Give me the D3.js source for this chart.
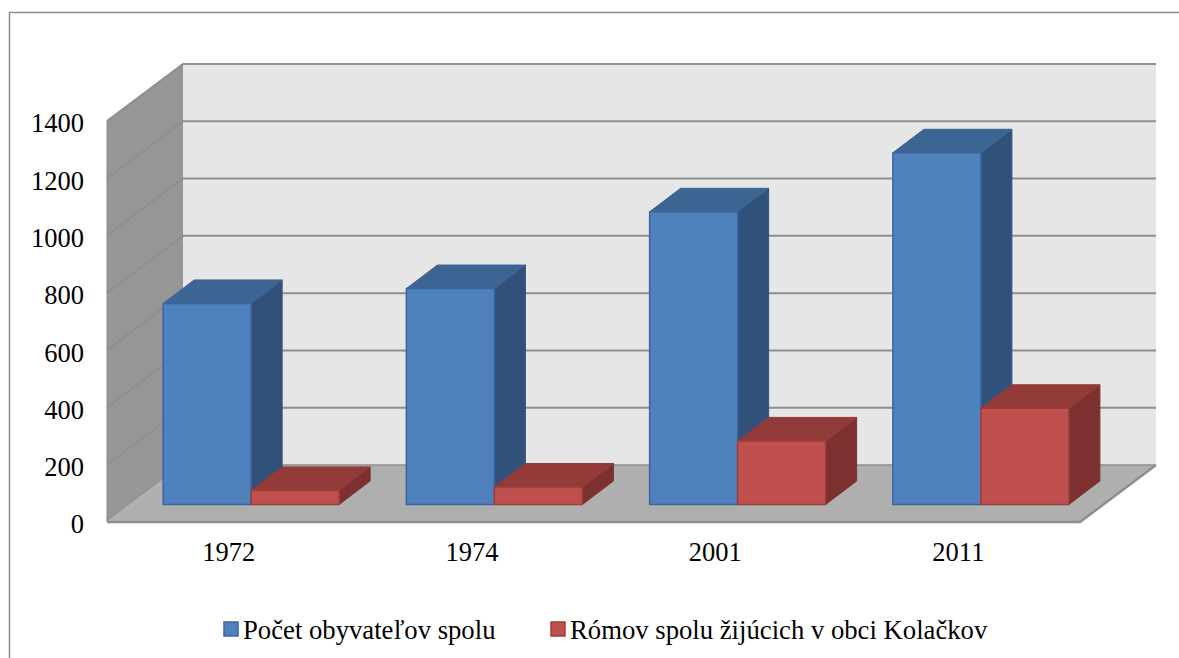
<!DOCTYPE html>
<html><head><meta charset="utf-8">
<script src="https://cdn.jsdelivr.net/npm/d3@7"></script>
<style>html,body{margin:0;padding:0;background:#fff;overflow:hidden}svg{display:block}text{font-family:"Liberation Serif",serif;fill:#000}</style>
</head><body><svg id="c" width="1179" height="658"></svg>
<script>
const categories = ["1972","1974","2001","2011"];
const seriesNames = ["Počet obyvateľov spolu","Rómov spolu žijúcich v obci Kolačkov"];
const population = [702,754,1022,1228];
const roma = [49,61,222,336];
const yTicks = [0,200,400,600,800,1000,1200,1400];
const palette = [
  {front:"#4f81bd",top:"#3c6594",side:"#31517b",edge:"#3a669c"},
  {front:"#c0504d",top:"#923b39",side:"#7c302f",edge:"#9c3f3c"}
];
const svg = d3.select("#c");
const left=107,right=1080,top0=121,bottom=522;
const wallDx=76,wallDy=-57,barDx=31,barDy=-23.5,barBase=504.5;
const grid="#8e8e8e";
const y = d3.scaleLinear().domain([0,1400]).range([bottom,top0]);
const x0 = d3.scaleBand().domain(categories).range([left,right]);
const barW = 88;
const poly=(pts)=>pts.map(p=>p.join(",")).join(" ");

// frame
svg.append("path").attr("d","M9.5,658V12.5H1179").attr("fill","none").attr("stroke","#8c8c8c").attr("stroke-width",1.5);

// walls
svg.append("polygon").attr("points",poly([[left+wallDx,y(1400)+wallDy],[right+wallDx,y(1400)+wallDy],[right+wallDx,y(0)+wallDy],[left+wallDx,y(0)+wallDy]])).attr("fill","#e6e6e6");
svg.append("polygon").attr("points",poly([[left,y(1400)],[left+wallDx,y(1400)+wallDy],[left+wallDx,y(0)+wallDy],[left,y(0)]])).attr("fill","#969696");
svg.append("polygon").attr("points",poly([[left,y(0)],[left+wallDx,y(0)+wallDy],[right+wallDx,y(0)+wallDy],[right,y(0)]])).attr("fill","#afafaf");

// gridlines
yTicks.forEach(t=>{
  const pts = t===0
    ? [[left,y(t)],[right,y(t)],[right+wallDx,y(t)+wallDy]]
    : [[left,y(t)],[left+wallDx,y(t)+wallDy],[right+wallDx,y(t)+wallDy]];
  svg.append("polyline").attr("points",poly(pts)).attr("fill","none").attr("stroke",grid).attr("stroke-width",t===0?2.5:2);
});
svg.append("line").attr("x1",left).attr("y1",y(0)).attr("x2",left).attr("y2",y(1400)).attr("stroke","#8a8a8a").attr("stroke-width",1);
svg.append("line").attr("x1",left+wallDx).attr("y1",y(0)+wallDy).attr("x2",right+wallDx).attr("y2",y(0)+wallDy).attr("stroke",grid).attr("stroke-width",1.5);

// bars
const barH = v => y(0)-y(v);
[population,roma].forEach((vals,s)=>{
  const c=palette[s];
  categories.forEach((cat,i)=>{
    const xc = x0(cat)+x0.bandwidth()/2+22.5;
    const xa = s===0 ? xc-barW : xc, xb = xa+barW;
    const yt = barBase-barH(vals[i]);
    const g = svg.append("g").attr("stroke-linejoin","round");
    g.append("polygon").attr("points",poly([[xb,yt],[xb+barDx,yt+barDy],[xb+barDx,barBase+barDy],[xb,barBase]])).attr("fill",c.side).attr("stroke",c.side);
    g.append("polygon").attr("points",poly([[xa,yt],[xa+barDx,yt+barDy],[xb+barDx,yt+barDy],[xb,yt]])).attr("fill",c.top).attr("stroke",c.top);
    g.append("rect").attr("x",xa).attr("y",yt).attr("width",barW).attr("height",barH(vals[i])).attr("fill",c.front).attr("stroke",c.edge).attr("stroke-width",1.5);
  });
});

// axes
const yAxis = svg.append("g").attr("transform","translate(84,2.5)").call(d3.axisLeft(y).tickValues(yTicks).tickSize(0).tickPadding(0).tickFormat(d3.format("d")));
yAxis.select(".domain").remove();
yAxis.selectAll("text").attr("font-size",26.5).attr("font-family","Liberation Serif").attr("fill","#000");
const xAxis = svg.append("g").attr("transform","translate(0,538)").call(d3.axisBottom(x0).tickSize(0).tickPadding(0));
xAxis.select(".domain").remove();
xAxis.selectAll("text").attr("font-size",26.5).attr("font-family","Liberation Serif").attr("fill","#000").attr("dy","0.85em");

// legend
const legendX=[224,551];
seriesNames.forEach((n,i)=>{
  svg.append("rect").attr("x",legendX[i]).attr("y",622).attr("width",14).attr("height",14).attr("fill",palette[i].front).attr("stroke",palette[i].edge).attr("stroke-width",1.5);
  svg.append("text").attr("x",legendX[i]+19).attr("y",639).attr("font-size",26.7).text(n);
});
</script></body></html>
